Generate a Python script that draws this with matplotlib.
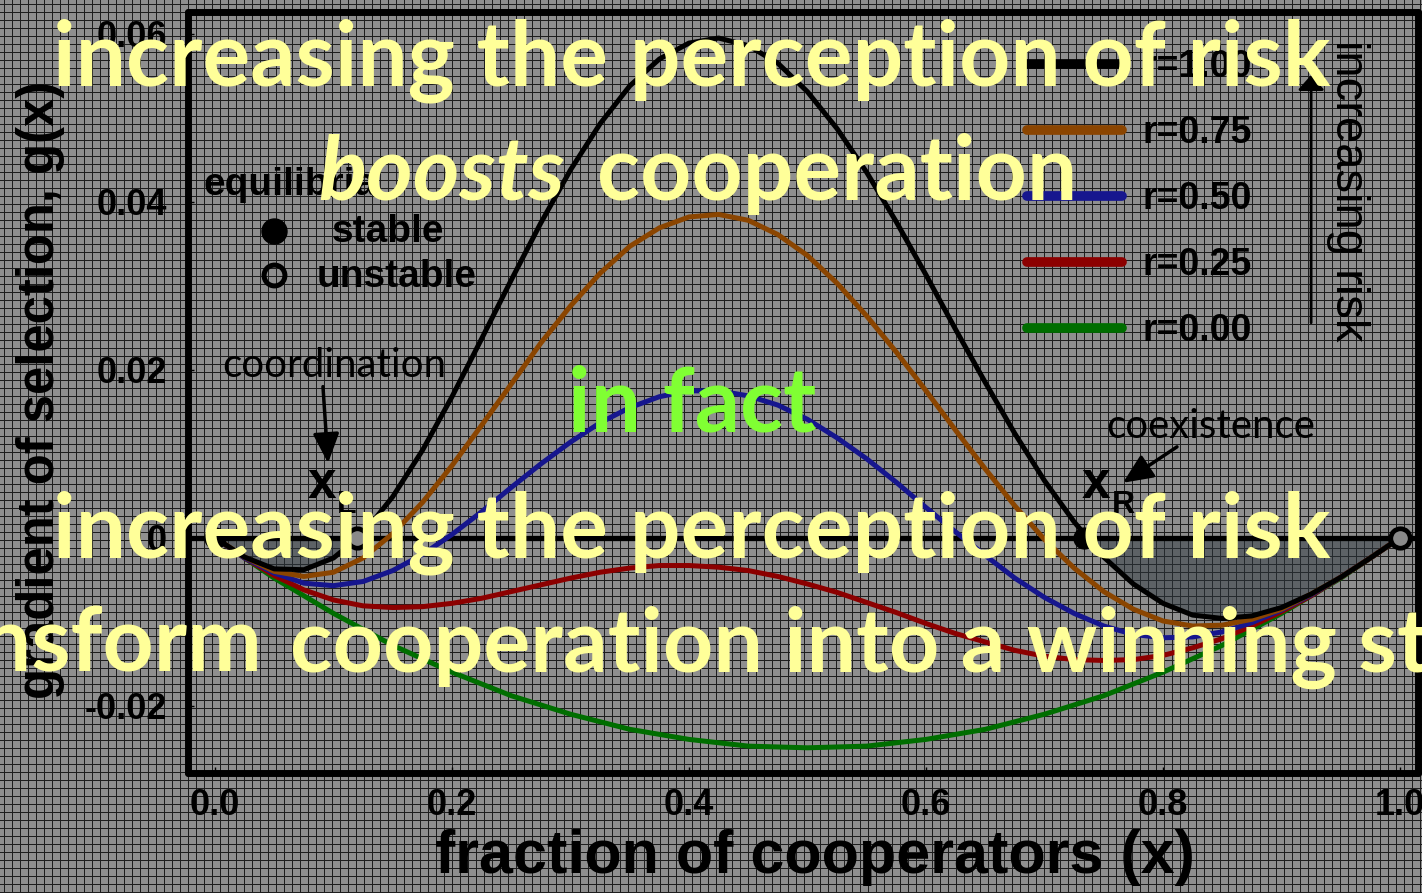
import numpy as np
import matplotlib.pyplot as plt

# fraction of cooperators and the gradient of selection for each risk level
x = np.linspace(0, 1, 41)
g_r100 = [0.0, -0.0023, -0.0037, -0.0038, -0.0024, 0.0005, 0.0049, 0.0104, 0.0168, 0.0237,
          0.0307, 0.0375, 0.0438, 0.0493, 0.0538, 0.0570, 0.0589, 0.0595, 0.0586, 0.0565,
          0.0531, 0.0487, 0.0435, 0.0376, 0.0313, 0.0248, 0.0185, 0.0124, 0.0068, 0.0019,
          -0.0023, -0.0055, -0.0078, -0.0092, -0.0096, -0.0093, -0.0083, -0.0067, -0.0047,
          -0.0024, 0.0]
g_r075 = [0.0, -0.0023, -0.0040, -0.0046, -0.0041, -0.0024, 0.0005, 0.0042, 0.0086, 0.0134,
          0.0183, 0.0232, 0.0276, 0.0315, 0.0347, 0.0369, 0.0382, 0.0385, 0.0378, 0.0361,
          0.0336, 0.0303, 0.0264, 0.0221, 0.0175, 0.0128, 0.0082, 0.0038, -0.0002, -0.0036,
          -0.0064, -0.0085, -0.0099, -0.0105, -0.0104, -0.0097, -0.0085, -0.0067, -0.0047,
          -0.0024, 0.0]
g_r050 = [0.0, -0.0024, -0.0042, -0.0054, -0.0057, -0.0052, -0.0039, -0.0020, 0.0004, 0.0031,
          0.0060, 0.0088, 0.0114, 0.0137, 0.0155, 0.0168, 0.0175, 0.0175, 0.0169, 0.0158,
          0.0141, 0.0119, 0.0094, 0.0066, 0.0036, 0.0007, -0.0021, -0.0048, -0.0071, -0.0090,
          -0.0105, -0.0115, -0.0119, -0.0118, -0.0112, -0.0101, -0.0086, -0.0068, -0.0047,
          -0.0024, 0.0]
g_r025 = [0.0, -0.0024, -0.0045, -0.0062, -0.0074, -0.0081, -0.0083, -0.0082, -0.0078, -0.0072,
          -0.0064, -0.0056, -0.0048, -0.0041, -0.0036, -0.0033, -0.0033, -0.0035, -0.0039, -0.0046,
          -0.0055, -0.0065, -0.0077, -0.0089, -0.0102, -0.0114, -0.0124, -0.0134, -0.0141, -0.0145,
          -0.0146, -0.0145, -0.0140, -0.0131, -0.0120, -0.0105, -0.0088, -0.0069, -0.0047,
          -0.0024, 0.0]
g_r000 = [0.0, -0.0024, -0.0048, -0.0069, -0.0090, -0.0109, -0.0128, -0.0144, -0.0160, -0.0174,
          -0.0188, -0.0199, -0.0210, -0.0219, -0.0228, -0.0234, -0.0240, -0.0244, -0.0248, -0.0249,
          -0.0250, -0.0249, -0.0248, -0.0244, -0.0240, -0.0234, -0.0228, -0.0219, -0.0210, -0.0199,
          -0.0188, -0.0174, -0.0160, -0.0144, -0.0128, -0.0109, -0.0090, -0.0069, -0.0048,
          -0.0024, 0.0]

risk_labels = ['r=1.00', 'r=0.75', 'r=0.50', 'r=0.25', 'r=0.00']
risk_colors = ['black', '#8b4500', '#16168e', '#8c0000', '#006e00']
risk_curves = [g_r100, g_r075, g_r050, g_r025, g_r000]

# equilibria of the r=1.00 curve
x_L, x_R = 0.12, 0.733
stable_x = [0.0, x_R]
unstable_x = [x_L, 1.0]

x_ticks = [0.0, 0.2, 0.4, 0.6, 0.8, 1.0]
x_ticklabels = ['0.0', '0.2', '0.4', '0.6', '0.8', '1.0']
y_ticks = [-0.02, 0.0, 0.02, 0.04, 0.06]
y_ticklabels = ['-0.02', '0', '0.02', '0.04', '0.06']

W, H = 1422, 893
fig = plt.figure(figsize=(W / 100, H / 100), dpi=100)

# gray slide background with a fine dark grid
bg = np.full((H, W), 0.56)
bg[:, 4::8] = 0.12
bg[4::8, :] = 0.12
fig.figimage(bg, cmap='gray', vmin=0, vmax=1, zorder=-10)

ax = fig.add_axes([188 / W, 1 - 773 / H, 1230 / W, 761 / H])
ax.set_facecolor('none')
ax.set_xlim(-0.0228, 1.0152)
ax.set_ylim(-0.0280, 0.0626)

ax.axhline(0, color='black', lw=3.8, zorder=2)
g1 = np.array(g_r100)
ax.fill_between(x, g1, 0, where=g1 <= 0, interpolate=True, color='#2c363e', alpha=0.5, zorder=1.5)

handles = []
for vals, col, lab in zip(risk_curves[::-1], risk_colors[::-1], risk_labels[::-1]):
    ln, = ax.plot(x, vals, color=col, lw=3.6, label=lab, solid_capstyle='round', zorder=3)
    handles.insert(0, ln)

ax.plot(stable_x, [0, 0], 'o', ms=15, color='black', zorder=6)
ax.plot(unstable_x, [0, 0], 'o', ms=14, mfc='#8a8a8a', mec='black', mew=3.4, zorder=6)

leg = ax.legend(handles=handles, loc='upper left', bbox_to_anchor=(0.682, 0.951),
                frameon=False, borderpad=0, borderaxespad=0, handlelength=2.53,
                handletextpad=0.56, labelspacing=0.8,
                prop={'family': 'Liberation Sans', 'weight': 'bold', 'size': 27})
for ln in leg.get_lines():
    ln.set_linewidth(7)
    ln.set_solid_capstyle('round')

# increasing risk arrow
ax.annotate('', xy=(0.925, 0.0551), xytext=(0.925, 0.0256),
            arrowprops=dict(arrowstyle='-|>,head_length=0.45,head_width=0.4',
                            mutation_scale=20, lw=2, color='black', shrinkA=0, shrinkB=0))
ax.text(0.956, 0.0413, 'increasing risk', rotation=-90, ha='center', va='center',
        family='Liberation Sans', fontsize=34, color='black')

# equilibria key
ax.text(-0.0101, 0.0408, 'equilibria', family='Liberation Sans', weight='bold',
        fontsize=28, va='baseline')
ax.plot([0.0498], [0.03655], 'o', ms=18, color='black')
ax.plot([0.0498], [0.0313], 'o', ms=15, mfc='none', mec='black', mew=3.6)
ax.text(0.0987, 0.03524, 'stable', family='Liberation Sans', weight='bold',
        fontsize=28, va='baseline')
ax.text(0.0861, 0.02988, 'unstable', family='Liberation Sans', weight='bold',
        fontsize=28, va='baseline')

# coordination / coexistence annotations
ax.text(0.1008, 0.01917, 'coordination', family='Lato', fontsize=29, ha='center', va='baseline')
ax.annotate('', xy=(0.0954, 0.0089), xytext=(0.0911, 0.0180),
            arrowprops=dict(arrowstyle='-|>,head_length=0.9,head_width=0.4',
                            mutation_scale=20, lw=2.5, color='black', shrinkA=0, shrinkB=0))
ax.text(0.0903, 0.00476, 'x', family='Liberation Sans', weight='bold', fontsize=37,
        ha='center', va='baseline')
ax.text(0.1030, 0.00298, 'L', family='Liberation Sans', weight='bold', fontsize=23,
        va='baseline')

ax.text(0.8405, 0.0119, 'coexistence', family='Lato', fontsize=29, ha='center', va='baseline')
ax.annotate('', xy=(0.7662, 0.00655), xytext=(0.8118, 0.01083),
            arrowprops=dict(arrowstyle='-|>,head_length=0.9,head_width=0.4',
                            mutation_scale=20, lw=2.5, color='black', shrinkA=0, shrinkB=0))
ax.text(0.7435, 0.00476, 'x', family='Liberation Sans', weight='bold', fontsize=37,
        ha='center', va='baseline')
ax.text(0.757, 0.00298, 'R', family='Liberation Sans', weight='bold', fontsize=23,
        va='baseline')

ax.set_xticks(x_ticks, x_ticklabels)
ax.set_yticks(y_ticks, y_ticklabels)
ax.tick_params(direction='in', length=4, width=1, labelsize=26)
ax.tick_params(axis='x', pad=11)
ax.tick_params(axis='y', pad=15)
for lab in ax.get_xticklabels() + ax.get_yticklabels():
    lab.set_family('Liberation Sans')
    lab.set_weight('bold')
for s in ax.spines.values():
    s.set_linewidth(5)
    s.set_capstyle('round')

fig.text(41 / W, 1 - 390 / H, 'gradient of selection, g(x)', rotation=90, ha='center',
         va='center', family='Liberation Sans', weight='bold', fontsize=36.5)
fig.text(815 / W, 1 - 858 / H, 'fraction of cooperators (x)', ha='center', va='center',
         family='Liberation Sans', weight='bold', fontsize=44)

# slide overlay text
yellow = '#ffff99'
line1 = fig.text(692 / W, 1 - 85 / H, 'increasing the perception of risk', ha='center',
                 va='baseline', family='Lato', weight='bold', fontsize=60, color=yellow, zorder=10)
renderer = fig.canvas.get_renderer()
size = 60 * 1275 / line1.get_window_extent(renderer).width
line1.set_fontsize(size)

fig.text(565 / W, 1 - 200 / H, 'boosts', ha='right', va='baseline', family='Lato',
         weight='bold', style='italic', fontsize=size, color=yellow, zorder=10)
fig.text(597 / W, 1 - 200 / H, 'cooperation', ha='left', va='baseline', family='Lato',
         weight='bold', fontsize=size, color=yellow, zorder=10)
fig.text(692 / W, 1 - 432 / H, 'in fact', ha='center', va='baseline', family='Lato',
         weight='bold', fontsize=size, color='#80ff33', zorder=10)
fig.text(692 / W, 1 - 557 / H, 'increasing the perception of risk', ha='center',
         va='baseline', family='Lato', weight='bold', fontsize=size, color=yellow, zorder=10)
fig.text(262 / W, 1 - 672 / H, 'transform', ha='right', va='baseline', family='Lato',
         weight='bold', fontsize=size, color=yellow, zorder=10)
fig.text(290 / W, 1 - 672 / H, 'cooperation into a winning strategy', ha='left',
         va='baseline', family='Lato', weight='bold', fontsize=size * 0.985, color=yellow,
         zorder=10)

fig.savefig('out.png', dpi=100)
